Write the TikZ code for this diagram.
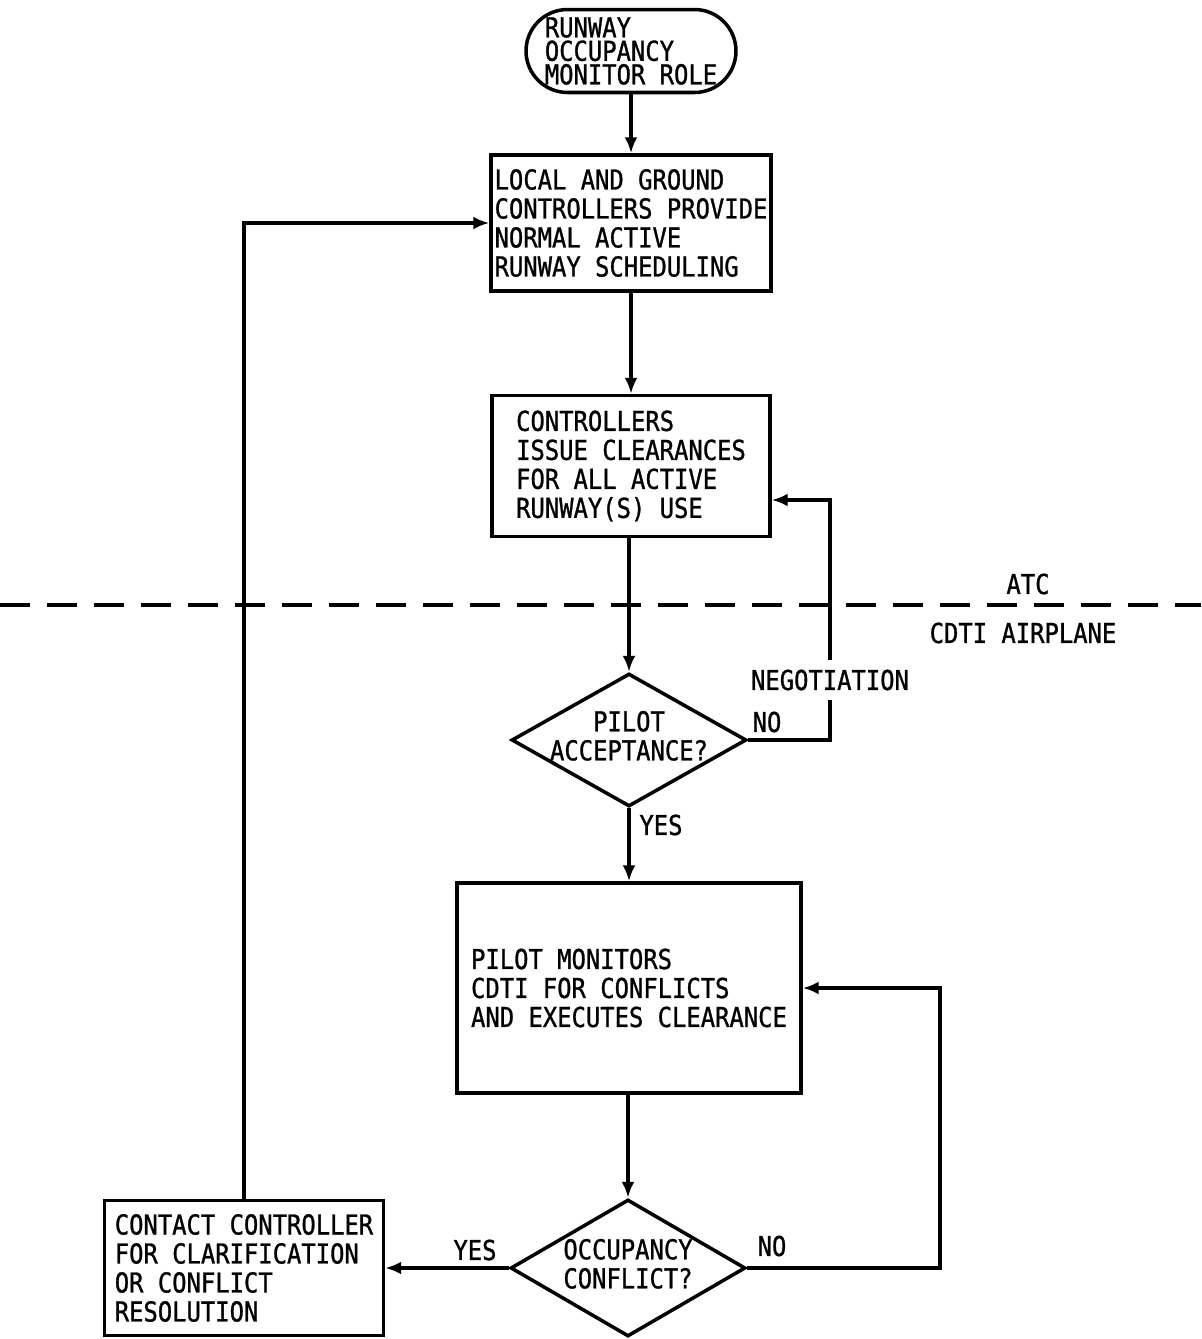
\documentclass[tikz,border=0pt]{standalone}
\usepackage{fontspec}
\newfontfamily\flowfont{DejaVu Sans Mono}[FakeStretch=0.87,FakeBold=1]
\usetikzlibrary{arrows.meta,shapes.geometric,positioning}

\newcommand{\difftext}[1]{\makebox[0pt]{\begin{tabular}{@{}c@{}}#1\end{tabular}}}

\tikzset{
  flowtext/.style={font=\flowfont\fontsize{15.6}{16.5}\selectfont},
  box/.style={flowtext, draw, line width=2pt, align=left, inner sep=0pt},
  terminal/.style={box, rounded corners=0.83cm, font=\flowfont\fontsize{15.6}{13.4}\selectfont},
  decision/.style={flowtext, draw, line width=2pt, diamond, inner sep=0pt,
                   minimum width=4.7cm},
  lbl/.style={flowtext, inner sep=0pt},
  flowarrow/.style={line width=2pt, -{Latex[length=0.32cm,width=0.26cm]}},
  flowline/.style={line width=2pt}
}

\begin{document}
\begin{tikzpicture}[x=0.02cm, y=-0.02cm]
  \useasboundingbox (0,0) rectangle (1201,1339);

  % ATC side
  \node[terminal, minimum width=4.2cm, minimum height=1.66cm] (role) at (631,51)
        {RUNWAY\\OCCUPANCY\\MONITOR ROLE};
  \node[box, minimum width=5.6cm, minimum height=2.72cm] (sched) at (631,223)
        {LOCAL AND GROUND\\CONTROLLERS PROVIDE\\NORMAL ACTIVE\\RUNWAY SCHEDULING};
  \node[box, minimum width=5.56cm, minimum height=2.82cm] (issue) at (631,466)
        {CONTROLLERS\\ISSUE CLEARANCES\\FOR ALL ACTIVE\\RUNWAY(S) USE};

  % split between ground and airplane
  \draw[flowline, dash pattern=on 0.6cm off 0.34cm] (0,605) -- (1201,605);
  \node[lbl] (atc) at (1028,584) {ATC};
  \node[lbl] (cdti) at (1023,633) {CDTI AIRPLANE};

  % airplane side
  \node[decision, minimum height=2.66cm] (accept) at (629,740)
        {\difftext{PILOT\\ACCEPTANCE?}};
  \node[box, minimum width=6.88cm, minimum height=4.2cm] (monitor) at (629,988)
        {PILOT MONITORS\\CDTI FOR CONFLICTS\\AND EXECUTES CLEARANCE};
  \node[decision, minimum height=2.74cm] (conflict) at (628,1268)
        {\difftext{OCCUPANCY\\CONFLICT?}};
  \node[box, minimum width=5.58cm, minimum height=2.7cm] (contact) at (244,1268)
        {CONTACT CONTROLLER\\FOR CLARIFICATION\\OR CONFLICT\\RESOLUTION};

  % main flow
  \draw[flowarrow] (role) -- (sched);
  \draw[flowarrow] (sched) -- (issue);
  \draw[flowarrow] (issue.south -| accept.north) -- (accept.north);
  \draw[flowarrow] (accept) -- (monitor);
  \draw[flowarrow] (monitor.south -| conflict.north) -- (conflict.north);

  % loops back
  \draw[flowarrow] (accept.east) -- (830,740)
        -- node[lbl, pos=0.25, fill=white, inner ysep=0.2cm] (negot) {NEGOTIATION} (830,500)
        -- (issue.east |- 830,500);
  \draw[flowarrow] (conflict.east) -- (940,1268) |- (monitor.east);
  \draw[flowarrow] (conflict.west) -- (contact.east);
  \draw[flowarrow] (contact.north) |- (sched.west);

  \node[lbl] (acc_no) at (767,722) {NO};
  \node[lbl] (acc_yes) at (661,825) {YES};
  \node[lbl] (con_no) at (772,1246) {NO};
  \node[lbl] (con_yes) at (475,1250) {YES};
\end{tikzpicture}
\end{document}
